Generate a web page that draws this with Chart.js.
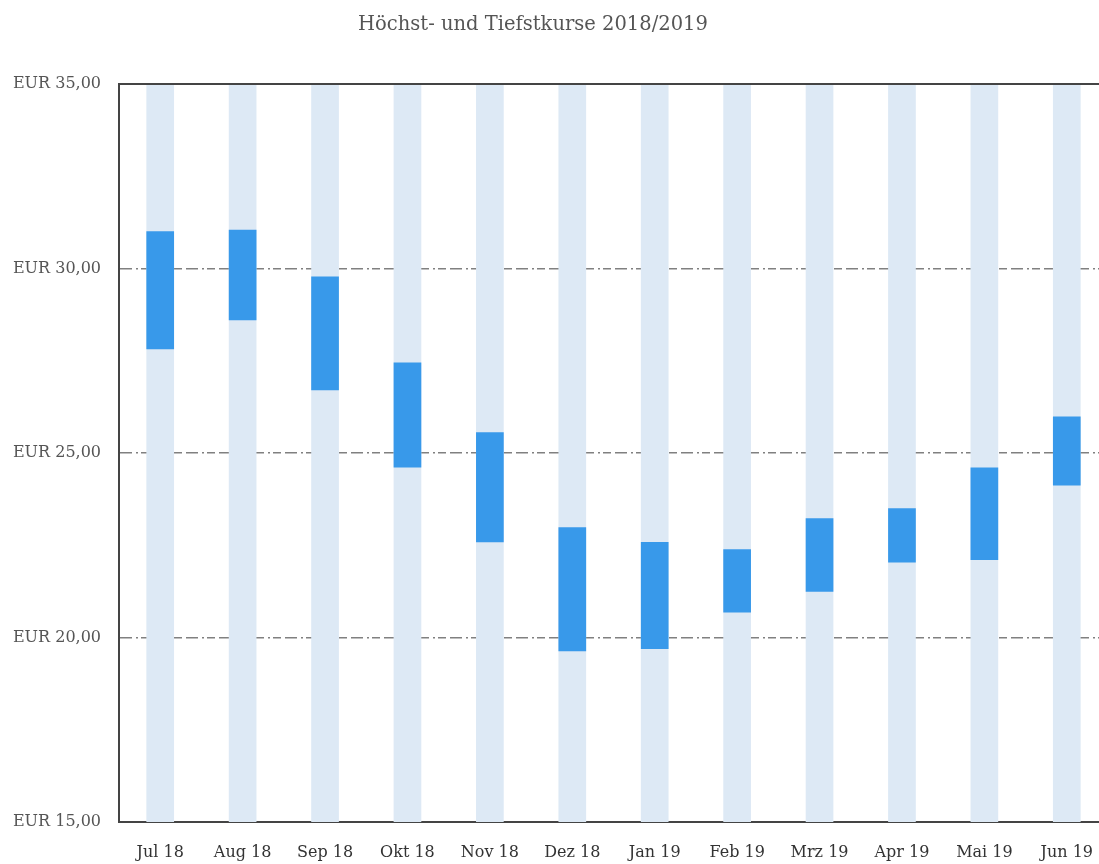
<!DOCTYPE html>
<html>
<head>
<meta charset="utf-8">
<script src="https://cdn.jsdelivr.net/npm/chart.js@4/dist/chart.umd.min.js"></script>
<style>
  html, body { margin: 0; padding: 0; background: #fff; overflow: hidden; width: 1099px; height: 864px; }
  #wrap { position: absolute; left: 0; top: 0; width: 1108px; height: 864px; }
</style>
</head>
<body>
<div id="wrap"><canvas id="c"></canvas></div>
<script>
const titleText = 'Höchst- und Tiefstkurse 2018/2019';
const categories = ['Jul 18', 'Aug 18', 'Sep 18', 'Okt 18', 'Nov 18', 'Dez 18', 'Jan 19', 'Feb 19', 'Mrz 19', 'Apr 19', 'Mai 19', 'Jun 19'];
const highs = [31.01, 31.05, 29.78, 27.45, 25.56, 22.99, 22.59, 22.39, 23.23, 23.50, 24.61, 25.99];
const lows  = [27.81, 28.60, 26.70, 24.61, 22.58, 19.63, 19.69, 20.68, 21.24, 22.03, 22.10, 24.12];
const axisMin = 15;
const axisMax = 35;
const axisStep = 5;

const serif = "'DejaVu Serif', 'Liberation Serif', serif";

const framePlugin = {
  id: 'frame',
  afterDraw(chart) {
    const { ctx, chartArea } = chart;
    ctx.save();
    ctx.strokeStyle = '#444';
    ctx.lineWidth = 2;
    ctx.beginPath();
    ctx.moveTo(chartArea.left, chartArea.top);
    ctx.lineTo(chartArea.right, chartArea.top);
    ctx.stroke();
    ctx.restore();
  }
};

const titlePlugin = {
  id: 'customTitle',
  afterDraw(chart) {
    const { ctx } = chart;
    ctx.save();
    ctx.font = '19.5px ' + serif;
    ctx.fillStyle = '#555';
    ctx.textAlign = 'center';
    ctx.textBaseline = 'middle';
    ctx.fillText(titleText, 533, 25);
    ctx.restore();
  }
};

new Chart(document.getElementById('c'), {
  type: 'bar',
  data: {
    labels: categories,
    datasets: [
      {
        label: 'Tief/Hoch',
        data: categories.map((_, i) => [lows[i], highs[i]]),
        backgroundColor: '#3899EA',
        grouped: false,
        order: 1,
        barPercentage: 0.336,
        categoryPercentage: 1
      },
      {
        label: 'Spanne',
        data: categories.map(() => [axisMin, axisMax]),
        backgroundColor: '#DDE9F5',
        grouped: false,
        order: 2,
        barPercentage: 0.336,
        categoryPercentage: 1
      }
    ]
  },
  options: {
    responsive: true,
    maintainAspectRatio: false,
    animation: false,
    layout: { padding: { top: 84, right: 0, bottom: 0, left: 0 } },
    plugins: {
      legend: { display: false },
      title: { display: false },
      tooltip: { enabled: false }
    },
    scales: {
      x: {
        grid: { display: false, drawTicks: true, tickLength: 21 },
        border: { display: true, color: '#444', width: 2 },
        ticks: {
          color: '#333',
          font: { family: serif, size: 16 },
          padding: 0,
          maxRotation: 0
        },
        afterFit(scale) { scale.height = 42; }
      },
      y: {
        min: axisMin,
        max: axisMax,
        grid: {
          drawTicks: false,
          lineWidth: 1.5,
          color: (ctx) => (ctx.tick && (ctx.tick.value === axisMin || ctx.tick.value === axisMax)) ? 'rgba(0,0,0,0)' : '#808080'
        },
        border: { display: true, color: '#444', width: 2, dash: [12, 4, 2, 3, 8, 4] },
        ticks: {
          stepSize: axisStep,
          color: '#555',
          font: { family: serif, size: 16 },
          padding: 18,
          callback: (v) => 'EUR ' + Number(v).toFixed(2).replace('.', ',')
        },
        afterFit(scale) { scale.width = 119; }
      }
    }
  },
  plugins: [framePlugin, titlePlugin]
});
</script>
</body>
</html>
